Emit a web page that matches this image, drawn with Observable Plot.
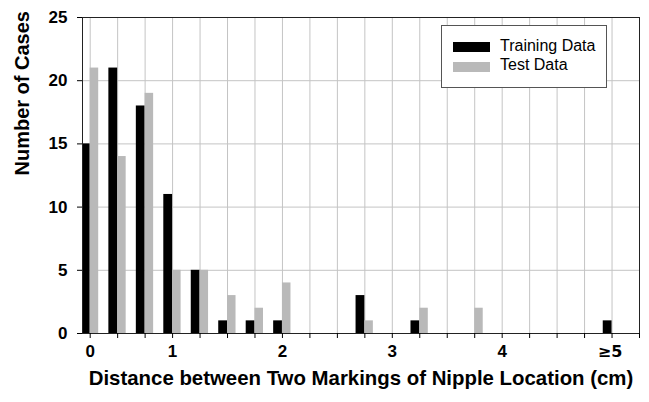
<!DOCTYPE html>
<html>
<head>
<meta charset="utf-8">
<script src="https://cdn.jsdelivr.net/npm/d3@7"></script>
<script src="https://cdn.jsdelivr.net/npm/@observablehq/plot@0.6"></script>
<style>
  body { margin: 0; background: #fff; }
  #wrap { position: relative; width: 649px; height: 402px; font-family: Arial, "Liberation Sans", Helvetica, sans-serif; }
  #legend { position: absolute; left: 441px; top: 25px; width: 164px; height: 61px; border: 1px solid #555; background: #fff; }
  .sw { position: absolute; left: 11px; width: 37px; height: 10px; }
  .lt { position: absolute; left: 58px; font-size: 16px; line-height: 16px; color: #000; white-space: nowrap; }
</style>
</head>
<body>
<div id="wrap"><div id="legend"></div></div>
<script>
// Bin index along the x axis (20 bins)
const bins = [0,1,2,3,4,5,6,7,8,9,10,11,12,13,14,15,16,17,18,19];
const training = [15,21,18,11,5,1,1,1,0,0,3,0,1,0,0,0,0,0,0,1];
const test     = [21,14,19,5,5,3,2,4,0,0,1,0,2,0,2,0,0,0,0,0];
// Tick labels and the bin they sit under
const xTickBins = [0,3,7,11,15,19];
const xTickLabels = ["0","1","2","3","4","\u22655"];
const yTicks = [0,5,10,15,20,25];
const seriesNames = ["Training Data","Test Data"];
const seriesColors = ["#000000","#b9b9b9"];

const rows = bins.map((b, i) => ({bin: b, training: training[i], test: test[i]}));
const tickMarks = bins.concat([bins.length]);
const xLabelRows = xTickBins.map((b, i) => ({bin: b, label: xTickLabels[i]}));
const plainLabels = xLabelRows.filter(d => !d.label.includes("\u2265"));
const symbolLabels = xLabelRows.filter(d => d.label.includes("\u2265"));

const font = 'Arial, "Liberation Sans", Helvetica, sans-serif';

const chart = Plot.plot({
  width: 649,
  height: 402,
  marginLeft: 82,
  marginRight: 10,
  marginTop: 17,
  marginBottom: 69,
  style: {fontFamily: font, background: "#fff", overflow: "visible"},
  x: {domain: [-0.28, bins.length]},
  y: {domain: [0, 25]},
  marks: [
    Plot.ruleX(bins, {x: d => d, stroke: "#c4c4c4", strokeWidth: 1}),
    Plot.ruleY([5,10,15,20], {stroke: "#c4c4c4", strokeWidth: 1}),
    Plot.rectY(rows, {x1: d => d.bin - 0.32, x2: d => d.bin, y: "training", fill: seriesColors[0], clip: true}),
    Plot.rectY(rows, {x1: d => d.bin, x2: d => d.bin + 0.31, y: "test", fill: seriesColors[1], clip: true}),
    Plot.frame({stroke: "#222", strokeWidth: 1}),
    Plot.axisX(tickMarks, {tickSize: 5, tickFormat: () => "", stroke: "#000", label: null}),
    Plot.axisY(yTicks, {tickSize: 5, tickFormat: () => "", stroke: "#000", label: null}),
    Plot.text(plainLabels, {x: "bin", text: "label", frameAnchor: "bottom", dy: 23, fontSize: 17, fontWeight: "bold", fill: "#000"}),
    Plot.text(symbolLabels, {x: "bin", text: "label", frameAnchor: "bottom", dy: 23, dx: -2, fontSize: 16, fontWeight: "bold", fontFamily: '"DejaVu Sans", sans-serif', fill: "#000"}),
    Plot.text(yTicks, {y: d => d, text: d => String(d), frameAnchor: "left", dx: -15, textAnchor: "end", fontSize: 17, fontWeight: "bold", fill: "#000"}),
    Plot.text(["Number of Cases"], {frameAnchor: "left", dx: -60, rotate: -90, fontSize: 20, fontWeight: "bold", fill: "#000"}),
    Plot.text(["Distance between Two Markings of Nipple Location (cm)"], {frameAnchor: "bottom", dy: 51, fontSize: 20.4, fontWeight: "bold", fill: "#000"})
  ]
});
document.getElementById("wrap").prepend(chart);

const legend = document.getElementById("legend");
seriesNames.forEach((name, i) => {
  const sw = document.createElement("div");
  sw.className = "sw";
  sw.style.top = (16 + i * 19.5) + "px";
  sw.style.background = seriesColors[i];
  legend.appendChild(sw);
  const t = document.createElement("div");
  t.className = "lt";
  t.style.top = (12 + i * 19) + "px";
  t.textContent = name;
  legend.appendChild(t);
});
</script>
</body>
</html>
